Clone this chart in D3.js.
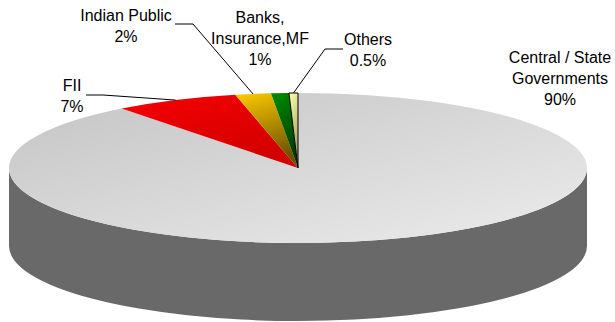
<!DOCTYPE html>
<html>
<head>
<meta charset="utf-8">
<script src="https://cdn.jsdelivr.net/npm/d3@7"></script>
<style>
  html, body { margin: 0; padding: 0; background: #ffffff; }
  svg { display: block; }
  text { font-family: "Liberation Sans", Arial, sans-serif; font-size: 16px; fill: #000; }
</style>
</head>
<body>
<svg id="chart" width="615" height="322"></svg>
<script>
// Shareholding pattern
const categories = ["Central / State Governments", "FII", "Indian Public", "Banks, Insurance,MF", "Others"];
const shares = [90, 7, 2, 1, 0.5];
const shareLabels = ["90%", "7%", "2%", "1%", "0.5%"];
const labelLines = [
  ["Central / State", "Governments"],
  ["FII"],
  ["Indian Public"],
  ["Banks,", "Insurance,MF"],
  ["Others"]
];

// Slice fills: [rim colour, centre colour]
const fills = [
  null,
  ["#f60000", "#d20000"],
  ["#ffcc00", "#6a5000"],
  ["#008c00", "#003800"],
  ["#ffffa8", "#9c9c5c"]
];

// Ellipse geometry of the tilted disc
const W = 615, H = 322;
const cx = 298, cy = 168, rx = 289, ry = 75, depth = 78;

// Label layout: text centre x, first-line centre y, optional leader elbow
const labelPos = [
  { x: 560, y: 57, leader: null },
  { x: 72,  y: 85, leader: [[86, 95], [103, 95]] },
  { x: 126, y: 15, leader: [[175, 24], [193, 24]] },
  { x: 260, y: 17, leader: null },
  { x: 368, y: 39, leader: [[343, 49], [325, 49]] }
];
const lineGap = 21;

const svg = d3.select("#chart");
const defs = svg.append("defs");

const pie = d3.pie().sort(null).value(d => d.value).startAngle(0).endAngle(2 * Math.PI);
const arcs = pie(categories.map((c, i) => ({ name: c, value: shares[i], i })));

// angle measured clockwise from 12 o'clock
const pt = (a, dy = 0) => [cx + rx * Math.sin(a), cy - ry * Math.cos(a) + dy];

function topPath(a0, a1) {
  const p = d3.path();
  const s = pt(a0), e = pt(a1);
  p.moveTo(cx, cy);
  p.lineTo(s[0], s[1]);
  const large = (a1 - a0) > Math.PI ? 1 : 0;
  return p.toString() + `A${rx},${ry} 0 ${large} 1 ${e[0]},${e[1]}Z`;
}

function sidePath(a0, a1) {
  // visible front wall spans angles PI/2 .. 3PI/2
  const s0 = Math.max(a0, Math.PI / 2), s1 = Math.min(a1, 3 * Math.PI / 2);
  if (s1 <= s0) return null;
  const p0 = pt(s0), p1 = pt(s1), q1 = pt(s1, depth), q0 = pt(s0, depth);
  return `M${p0[0]},${p0[1]}A${rx},${ry} 0 0 1 ${p1[0]},${p1[1]}` +
         `L${q1[0]},${q1[1]}A${rx},${ry} 0 0 0 ${q0[0]},${q0[1]}Z`;
}

// gradients
const gTop = defs.append("linearGradient").attr("id", "gTop")
  .attr("x1", 0).attr("y1", 0).attr("x2", 1).attr("y2", 1);
gTop.append("stop").attr("offset", 0).attr("stop-color", "#c4c4c4");
gTop.append("stop").attr("offset", 1).attr("stop-color", "#ececec");

fills.forEach((f, i) => {
  if (!f) return;
  const g = defs.append("linearGradient").attr("id", "g" + i)
    .attr("x1", 0).attr("y1", 0).attr("x2", i === 1 ? 0.6 : 0.25).attr("y2", 1);
  g.append("stop").attr("offset", 0).attr("stop-color", f[0]);
  g.append("stop").attr("offset", 1).attr("stop-color", f[1]);
});

// side walls
const sides = svg.append("g");
arcs.forEach(d => {
  const sp = sidePath(d.startAngle, d.endAngle);
  if (sp) sides.append("path").attr("d", sp).attr("fill", "#696969");
});

// top faces
const tops = svg.append("g");
arcs.forEach(d => {
  const i = d.data.i;
  tops.append("path")
    .attr("d", topPath(d.startAngle, d.endAngle))
    .attr("fill", i === 0 ? "url(#gTop)" : `url(#g${i})`)
    .attr("stroke", i === 4 ? "#000" : "none")
    .attr("stroke-width", i === 4 ? 1 : 0)
    .attr("stroke-linejoin", "miter");
});

// labels and leader lines
const lab = svg.append("g");
arcs.forEach(d => {
  const i = d.data.i;
  const lp = labelPos[i];
  const lines = labelLines[i].concat([shareLabels[i]]);
  const t = lab.append("text").attr("text-anchor", "middle");
  lines.forEach((s, k) => {
    t.append("tspan").attr("x", lp.x).attr("y", lp.y + 5.7 + k * lineGap).text(s);
  });
  if (lp.leader) {
    const mid = (d.startAngle + d.endAngle) / 2;
    const end = pt(mid);
    const pts = lp.leader.concat([end]);
    lab.append("path")
      .attr("d", d3.line()(pts))
      .attr("fill", "none")
      .attr("stroke", "#000")
      .attr("stroke-width", 1);
  }
});
</script>
</body>
</html>
